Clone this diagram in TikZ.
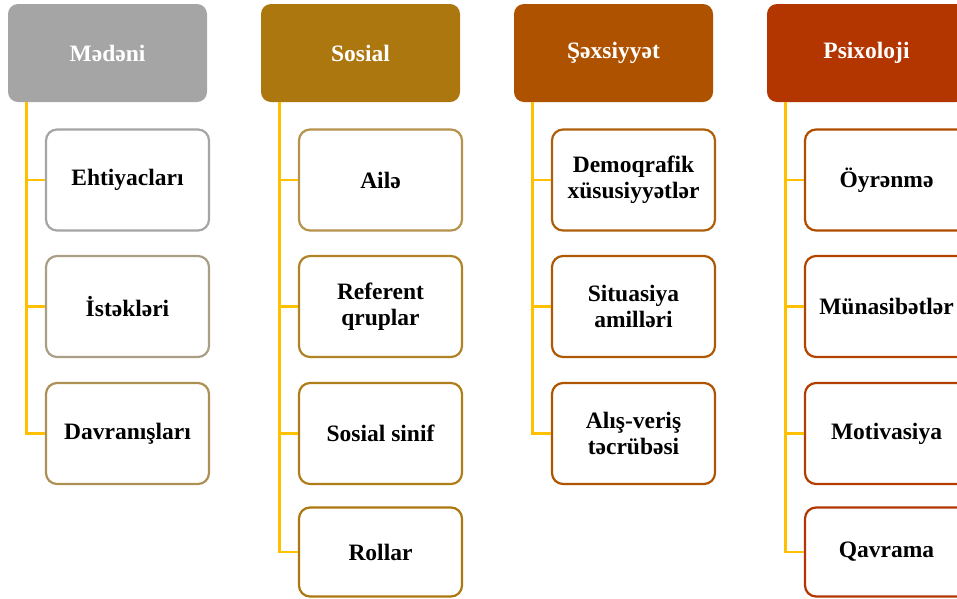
\documentclass[tikz,border=0pt]{standalone}
\usepackage{fontspec}
\setmainfont{Liberation Serif}
\begin{document}
\definecolor{hA}{HTML}{A5A5A5}
\definecolor{hB}{HTML}{AD770F}
\definecolor{hC}{HTML}{AF5200}
\definecolor{hD}{HTML}{B33500}
\definecolor{a1}{HTML}{A5A5A5}
\definecolor{a2}{HTML}{AB9E86}
\definecolor{a3}{HTML}{AD9054}
\definecolor{b1}{HTML}{B5924E}
\definecolor{b2}{HTML}{B08426}
\definecolor{b3}{HTML}{AF7E1B}
\definecolor{b4}{HTML}{AD7710}
\definecolor{c1}{HTML}{AF600A}
\definecolor{c2}{HTML}{AF5904}
\definecolor{c3}{HTML}{AF5400}
\definecolor{d1}{HTML}{B24C00}
\definecolor{d2}{HTML}{B34400}
\definecolor{d3}{HTML}{B33D00}
\definecolor{d4}{HTML}{B33600}
\definecolor{branch}{HTML}{FFC000}
\begin{tikzpicture}[x=1pt,y=-1pt,
  txt/.style={font=\fontsize{23.5}{26}\selectfont\bfseries, align=center},
  head/.style={txt, text=white, fill=#1, draw=none, rounded corners=10pt,
    minimum width=199pt, minimum height=98pt, inner sep=0pt},
  item/.style={txt, text=black, fill=white, draw=#1, line width=2.2pt,
    rounded corners=11pt, minimum width=163pt, minimum height=101pt, inner sep=0pt},
  itemlast/.style={item=#1, minimum height=89pt},
  conn/.style={draw=branch, line width=2.4pt}]
\useasboundingbox (0,0) rectangle (957,598);
\clip (0,0) rectangle (957,598);

% headers
\node[head=hA] (h1) at (107.5,53) {Mədəni};
\node[head=hB] (h2) at (360.5,53) {Sosial};
\node[head=hC] (h3) at (613.5,53) {Şəxsiyyət};
\node[head=hD] (h4) at (866.5,53) {Psixoloji};

% trunk tops below each header
\coordinate (t1) at ([xshift=18.5pt]h1.south west);
\coordinate (t2) at ([xshift=18.5pt]h2.south west);
\coordinate (t3) at ([xshift=18.5pt]h3.south west);
\coordinate (t4) at ([xshift=18.5pt]h4.south west);

% column 1
\node[item=a1] (c11) at (127.5,180) {Ehtiyacları};
\node[item=a2] (c12) at (127.5,306.5) {İstəkləri};
\node[item=a3] (c13) at (127.5,433.5) {Davranışları};
% column 2
\node[item=b1] (c21) at (380.5,180) {Ailə};
\node[item=b2] (c22) at (380.5,306.5) {Referent\\qruplar};
\node[item=b3] (c23) at (380.5,433.5) {Sosial sinif};
\node[itemlast=b4] (c24) at (380.5,552) {Rollar};
% column 3
\node[item=c1] (c31) at (633.5,180) {Demoqrafik\\xüsusiyyətlər};
\node[item=c2] (c32) at (633.5,306.5) {Situasiya\\amilləri};
\node[item=c3] (c33) at (633.5,433.5) {Alış-veriş\\təcrübəsi};
% column 4
\node[item=d1] (c41) at (886.5,180) {Öyrənmə};
\node[item=d2] (c42) at (886.5,306.5) {Münasibətlər};
\node[item=d3] (c43) at (886.5,433.5) {Motivasiya};
\node[itemlast=d4] (c44) at (886.5,552) {Qavrama};

% connectors
\draw[conn] (t1) |- (c13.west);
\draw[conn] (c11.west) -- (c11.west -| t1);
\draw[conn] (c12.west) -- (c12.west -| t1);

\draw[conn] (t2) |- (c24.west);
\draw[conn] (c21.west) -- (c21.west -| t2);
\draw[conn] (c22.west) -- (c22.west -| t2);
\draw[conn] (c23.west) -- (c23.west -| t2);

\draw[conn] (t3) |- (c33.west);
\draw[conn] (c31.west) -- (c31.west -| t3);
\draw[conn] (c32.west) -- (c32.west -| t3);

\draw[conn] (t4) |- (c44.west);
\draw[conn] (c41.west) -- (c41.west -| t4);
\draw[conn] (c42.west) -- (c42.west -| t4);
\draw[conn] (c43.west) -- (c43.west -| t4);
\end{tikzpicture}
\end{document}
